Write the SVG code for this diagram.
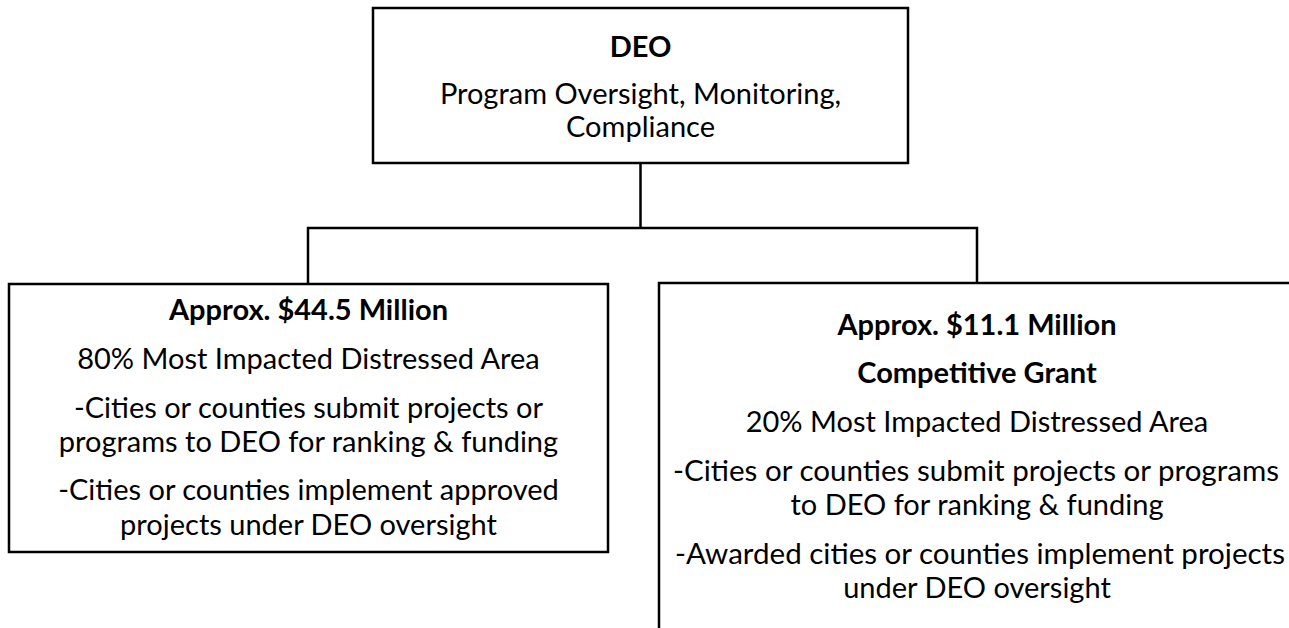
<svg xmlns="http://www.w3.org/2000/svg" width="1289" height="628" viewBox="0 0 1289 628">
<style>
.box{fill:#ffffff;stroke:#000000;stroke-width:2.5}
.conn{fill:none;stroke:#000000;stroke-width:2.5}
text{font-family:Lato,"Liberation Sans",sans-serif;font-size:29px;fill:#000000;text-anchor:middle}
.b{font-weight:bold}
</style>
<rect width="1289" height="628" fill="#ffffff"/>
<g id="connectors">
<path class="conn" d="M640.5,163 V228"/>
<path class="conn" d="M308,284 V228 H977 V283"/>
</g>
<g id="node-deo">
<rect class="box" x="373" y="8" width="535" height="155"/>
<text class="b" x="640.5" y="57">DEO</text>
<text x="640.5" y="104">Program Oversight, Monitoring,</text>
<text x="640.5" y="137">Compliance</text>
</g>
<g id="node-left">
<rect class="box" x="9" y="284" width="599" height="268"/>
<text class="b" x="308.5" y="320">Approx. $44.5 Million</text>
<text x="308.5" y="369">80% Most Impacted Distressed Area</text>
<text x="308.5" y="418">-Cities or counties submit projects or</text>
<text x="308.5" y="452">programs to DEO for ranking &amp; funding</text>
<text x="308.5" y="500">-Cities or counties implement approved</text>
<text x="308.5" y="535">projects under DEO oversight</text>
</g>
<g id="node-right">
<rect class="box" x="659" y="283" width="640" height="360"/>
<text class="b" x="977" y="335">Approx. $11.1 Million</text>
<text class="b" x="977" y="383">Competitive Grant</text>
<text x="977" y="432">20% Most Impacted Distressed Area</text>
<text x="976" y="481" textLength="606" lengthAdjust="spacingAndGlyphs">-Cities or counties submit projects or programs</text>
<text x="977" y="515">to DEO for ranking &amp; funding</text>
<text x="980" y="564" textLength="610" lengthAdjust="spacingAndGlyphs">-Awarded cities or counties implement projects</text>
<text x="977" y="598">under DEO oversight</text>
</g>
</svg>
